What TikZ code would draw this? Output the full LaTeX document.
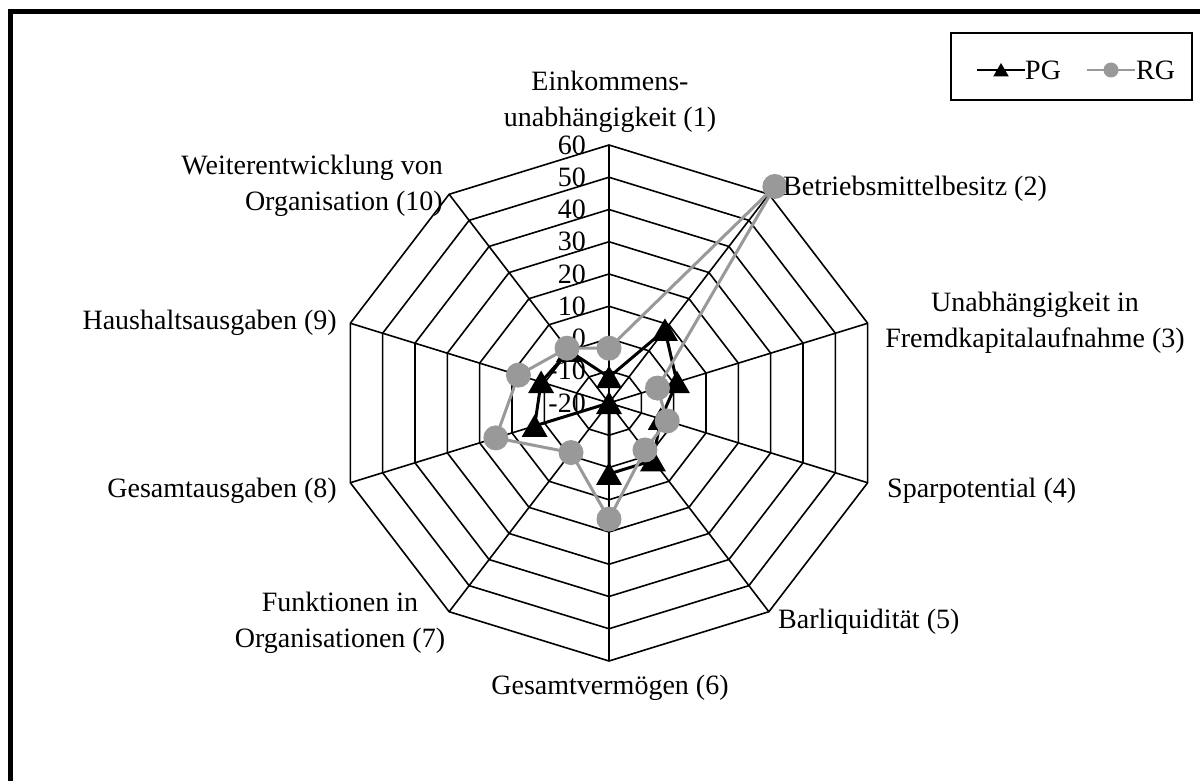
\documentclass[tikz,border=0pt]{standalone}
\usepackage{fontspec}
\setmainfont{Liberation Serif}
\usetikzlibrary{shapes.geometric}
\definecolor{rgcol}{RGB}{153,153,153}
\begin{document}
\begin{tikzpicture}[x=1pt,y=-1pt,
  lbl/.style={font=\fontsize{28}{36}\selectfont, inner sep=0pt},
  gridline/.style={line width=1.6pt, black},
  pgline/.style={line width=3pt, black, line join=round},
  rgline/.style={line width=3pt, rgcol, line join=round},
  pgmark/.style={regular polygon, regular polygon sides=3, fill=black,
                 minimum size=30pt, inner sep=0pt, yshift=-3.5pt},
  rgmark/.style={circle, fill=rgcol, minimum size=25pt, inner sep=0pt},
  legpg/.style={regular polygon, regular polygon sides=3, fill=black,
                minimum size=18pt, inner sep=0pt, yshift=-2pt},
  legrg/.style={circle, fill=rgcol, minimum size=15pt, inner sep=0pt}]
\useasboundingbox (0,0) rectangle (1200,781);
\fill[white] (0,0) rectangle (1200,781);
% outer frame
\draw[line width=5pt] (10.5,790) -- (10.5,11.5) -- (1210,11.5);

% radar grid, values -20 ... 60
\begin{scope}[shift={(609,403)}, x=3.4pt, y=3.225pt]
  \foreach \r in {10,20,...,80}
    \draw[gridline] (90:\r) \foreach \a in {54,18,...,-234}{ -- (\a:\r)} -- cycle;
  \foreach \a in {90,54,...,-234}
    \draw[gridline] (0,0) -- (\a:80);
  \foreach \v in {-20,-10,...,60}
    \node[lbl, anchor=east, xshift=-23pt] at (90:{\v+20}) {\v};

  % data points
  \foreach \v [count=\k] in {-12,8,1,-4,2,2,-20,3,1,0}
    \coordinate (pg\k) at ({90-36*(\k-1)}:{\v+20});
  \foreach \v [count=\k] in {-3,63,-5,-2,-2,16,-1,15,8,1}
    \coordinate (rg\k) at ({90-36*(\k-1)}:{\v+20});

  % PG series
  \draw[pgline] (pg1) -- (pg2) -- (pg3) -- (pg4) -- (pg5) -- (pg6)
     -- (pg7) -- (pg8) -- (pg9) -- (pg10) -- cycle;
  \foreach \k in {1,...,10} \node[pgmark] (pgm\k) at (pg\k) {};

  % RG series
  \draw[rgline] (rg1) -- (rg2) -- (rg3) -- (rg4) -- (rg5) -- (rg6)
     -- (rg7) -- (rg8) -- (rg9) -- (rg10) -- cycle;
  \foreach \k in {1,...,10} \node[rgmark] (rgm\k) at (rg\k) {};
\end{scope}

% category labels
\node[lbl, align=center] (c1) at (610,102) {Einkommens-\\unabhängigkeit (1)};
\node[lbl, anchor=west] (c2) at (783,189) {Betriebsmittelbesitz (2)};
\node[lbl, align=center] (c3) at (1035,323) {Unabhängigkeit in\\Fremdkapitalaufnahme (3)};
\node[lbl, anchor=west] (c4) at (887,491) {Sparpotential (4)};
\node[lbl, anchor=west] (c5) at (778,622) {Barliquidität (5)};
\node[lbl] (c6) at (610,688) {Gesamtvermögen (6)};
\node[lbl, align=center] (c7) at (340,623) {Funktionen in\\Organisationen (7)};
\node[lbl, anchor=east] (c8) at (337,491) {Gesamtausgaben (8)};
\node[lbl, anchor=east] (c9) at (337,323) {Haushaltsausgaben (9)};
\node[lbl, align=right, anchor=east] (c10) at (443,186) {Weiterentwicklung von\\Organisation (10)};

% legend
\node[draw, line width=1.3pt, minimum width=241pt, minimum height=67pt, inner sep=0pt]
  (legend) at (1071.5,66.5) {};
\coordinate (lpa) at (977,70);
\coordinate (lpb) at (1025,70);
\coordinate (lra) at (1087,70);
\coordinate (lrb) at (1135,70);
\draw[line width=2.2pt, black] (lpa) -- (lpb);
\node[legpg] (lpm) at (1001,70) {};
\node[lbl, anchor=west] (lpt) at (1025,70) {PG};
\draw[line width=2.2pt, rgcol] (lra) -- (lrb);
\node[legrg] (lrm) at (1111,70) {};
\node[lbl, anchor=west] (lrt) at (1136,70) {RG};
\end{tikzpicture}
\end{document}
